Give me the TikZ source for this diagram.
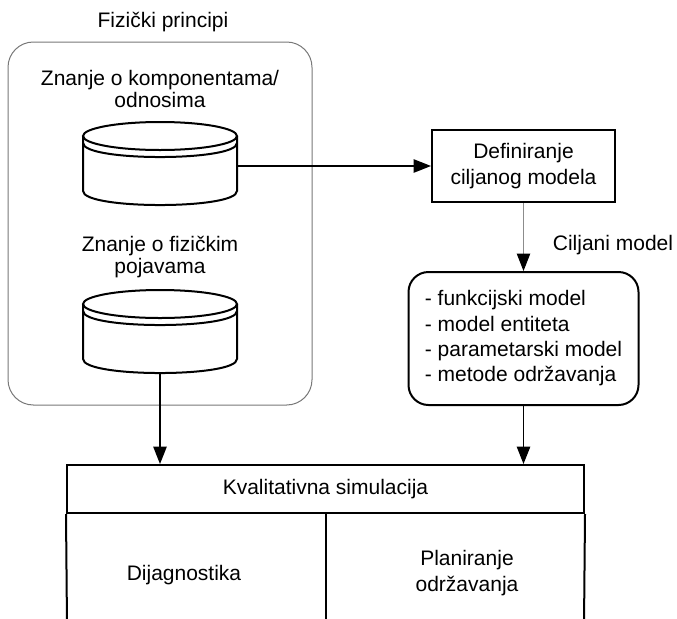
\documentclass[tikz,border=0pt]{standalone}
\usepackage{fontspec}
\setmainfont{Liberation Sans}
\usetikzlibrary{arrows.meta}

\tikzset{every picture/.style={line width=0.75pt}}
\tikzset{
  txt/.style={inner sep=0.75pt, align=center, font=\fontsize{15.75}{17}\selectfont},
  box/.style={draw, line width=1.5pt, inner sep=0.75pt, align=center, font=\fontsize{15.75}{20}\selectfont},
  can/.style={line width=1.5pt},
  grp/.style={draw={rgb, 255:red, 120; green, 120; blue, 120}, line width=0.75pt, rounded corners=19pt},
  arr/.style={line width=1.1pt, -{Triangle[length=13pt, width=10pt]}},
  arrg/.style={draw={rgb, 255:red, 140; green, 140; blue, 140}, line width=0.75pt, -{Triangle[length=13pt, width=10pt, color=black]}}
}

\begin{document}
\begin{tikzpicture}[x=0.75pt,y=0.75pt,yscale=-1,xscale=1]
        \useasboundingbox (0,0) rectangle (677,618);

        %Rounded Rect [id:grp]
        \draw [grp] (8,42) rectangle (312,405) ;
        % Text Node
        \node [txt] (phystitle) at (163,22) {Fizički principi};
        % Text Node
        \node [txt] (komptxt) at (160,89) {Znanje o komponentama/\\odnosima};
        % Text Node
        \node [txt] (pojtxt) at (160,257) {Znanje o fizičkim\\pojavama};

        %Shape: Can [id:can1]
        \draw [can] (83,136) -- (83,191) .. controls (83,209.7) and (237,209.7) .. (237,191) -- (237,136) ;
        \draw [can] (160,136) ellipse (77 and 14) ;
        \draw [can] (83,143) .. controls (83,161.7) and (237,161.7) .. (237,143) ;
        \coordinate (can1e) at (237,166) ;

        %Shape: Can [id:can2]
        \draw [can] (83,304) -- (83,359) .. controls (83,377.7) and (237,377.7) .. (237,359) -- (237,304) ;
        \draw [can] (160,304) ellipse (77 and 14) ;
        \draw [can] (83,311) .. controls (83,329.7) and (237,329.7) .. (237,311) ;
        \coordinate (can2s) at (160,373) ;

        %Rect [id:def]
        \node [box, minimum width=137.25pt, minimum height=54pt] (def) at (523.5,166) {Definiranje\\ciljanog modela};
        %Rounded Rect [id:mod]
        \node [box, rounded corners=15pt, align=left, font=\fontsize{15.75}{19}\selectfont, minimum width=172.5pt, minimum height=99.75pt] (mod) at (523.5,338.5) {- funkcijski model\\- model entiteta\\- parametarski model\\- metode održavanja};
        % Text Node
        \node [txt] (ciljtxt) at (613,245) {Ciljani model};

        %Rect [id:sim]
        \node [box, minimum width=387.75pt, minimum height=36pt] (sim) at (325.5,489) {Kvalitativna simulacija};
        \draw [can] (sim.south west) -- (67,625) ;
        \draw [can] (sim.south east) -- (584,625) ;
        \draw [can] (sim.south) -- (325.5,625) ;
        % Text Node
        \node [txt] (diag) at (184,575) {Dijagnostika};
        % Text Node
        \node [txt, font=\fontsize{15.75}{20}\selectfont] (plan) at (467,573) {Planiranje\\održavanja};

        %Straight Lines
        \draw [arr] (can1e) -- (def.west) ;
        \draw [arrg] (def.south) -- (mod.north) ;
        \draw [arr] (can2s) -- (can2s |- sim.north) ;
        \draw [arr] (mod.south) -- (mod.south |- sim.north) ;

\end{tikzpicture}
\end{document}
